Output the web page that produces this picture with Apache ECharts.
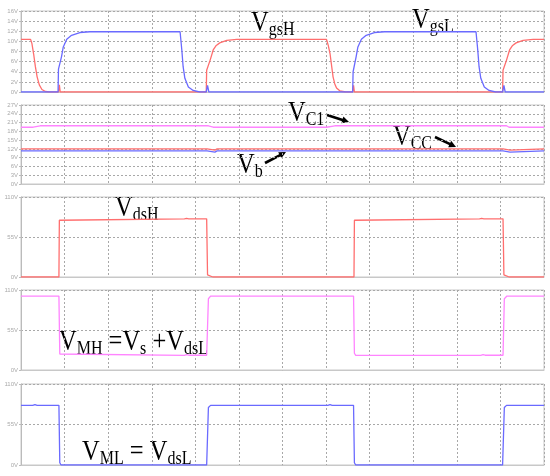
<!DOCTYPE html>
<html><head><meta charset="utf-8">
<script src="https://cdn.jsdelivr.net/npm/echarts@6/dist/echarts.min.js"></script>
<style>html,body{margin:0;padding:0;background:#fff}#c{width:550px;height:476px}</style>
</head><body><div id="c"></div>
<script>
// ---- Data (x in time divisions, y in volts) ----
const xDivisions = 12;
const yMax = [16, 27, 110, 110, 110];
const yStep = [2, 3, 55, 55, 55];
const unit = 'V';

// Panel 1: gate voltages
const vgsH = [[0,10.4],[0.22,10.4],[0.25,9.6],[0.29,7.5],[0.33,5],[0.37,3],[0.42,1.4],[0.48,0.5],[0.56,0.1],[0.65,0],[0.86,0],[0.88,1.4],[0.9,0],[4.25,0],[4.26,4.3],[4.3,4.5],[4.34,6.3],[4.41,8.3],[4.48,9.2],[4.56,9.7],[4.72,10.2],[4.95,10.4],[7.01,10.4],[7.05,9.2],[7.09,7.6],[7.16,3],[7.2,1.6],[7.24,0.8],[7.32,0.2],[7.45,0],[7.61,0],[7.63,1.3],[7.65,0],[11.05,0],[11.06,4.3],[11.1,4.5],[11.14,6.3],[11.21,8.3],[11.28,9.2],[11.36,9.7],[11.52,10.2],[11.75,10.4],[12,10.4]];
const vgsL = [[0,0],[0.85,0],[0.86,4.5],[0.89,4.5],[0.93,7],[0.97,8.9],[1.05,10.4],[1.16,11.2],[1.35,11.75],[1.58,11.9],[3.65,11.9],[3.69,8.3],[3.72,5],[3.76,2.7],[3.84,1],[3.95,0.3],[4.1,0],[4.25,0],[4.28,1.3],[4.31,0],[7.61,0],[7.62,4],[7.65,4.2],[7.69,7],[7.73,8.9],[7.81,10.4],[7.92,11.2],[8.11,11.75],[8.34,11.9],[10.44,11.9],[10.48,8.3],[10.51,5],[10.55,2.7],[10.63,1],[10.74,0.3],[10.89,0],[11.05,0],[11.08,1.3],[11.11,0],[12,0]];
// Panel 2: supply rails
const vc1 = [[0,19.4],[0.28,19.4],[0.44,19.9],[4.3,19.9],[4.41,19.4],[7.01,19.4],[7.2,19.9],[11.14,19.9],[11.2,19.4],[12,19.4]];
const vcc = [[0,12],[4.27,12],[4.3,11.6],[4.45,11.6],[4.5,12],[11.06,12],[11.09,11.6],[11.22,11.6],[11.26,12],[12,12]];
const vb  = [[0,11.3],[4.27,11.3],[4.3,10.9],[4.45,10.9],[4.5,11.3],[11.06,11.3],[11.09,10.9],[11.22,10.9],[11.26,11.3],[12,11.3]];
// Panel 3
const vdsH = [[0,0],[0.87,0],[0.88,78],[0.9,80],[3.75,80],[3.8,80.6],[3.85,80],[4.26,80],[4.28,3],[4.32,0.5],[4.4,0],[7.64,0],[7.65,78],[7.67,80],[10.52,80],[10.57,80.6],[10.62,80],[11.06,80],[11.08,3],[11.12,0.5],[11.2,0],[12,0]];
// Panel 4
const vmh = [[0,101.7],[0.87,101.7],[0.89,22],[0.92,20],[3.75,20],[3.8,21],[3.85,20.3],[4.26,20.3],[4.3,98],[4.35,101.7],[7.63,101.7],[7.65,23],[7.68,20],[10.55,20],[10.6,21],[10.65,20.3],[11.06,20.3],[11.09,98],[11.15,101.7],[12,101.7]];
// Panel 5
const vml = [[0,81],[0.27,81],[0.32,82],[0.37,81],[0.87,81],[0.89,3],[0.92,0],[4.26,0],[4.3,78],[4.35,81],[7.04,81],[7.09,82],[7.14,81],[7.63,81],[7.65,3],[7.68,0],[11.05,0],[11.09,78],[11.14,81],[12,81]];

const RED = '#ff6e6e', BLUE = '#6a6aff', PINK = '#ff84ff';

// ---- Layout ----
const panels = [
  {top: 11, height: 81},
  {top: 105, height: 79},
  {top: 197, height: 80},
  {top: 290, height: 80},
  {top: 384, height: 81}
];
const grid = panels.map(p => ({left: 21, right: 6, top: p.top, height: p.height, show: true, borderColor: '#c8c8c8', borderWidth: 1, backgroundColor: 'transparent'}));
const gridDash = {color: '#a8a8a8', width: 1, type: [2, 2]};
const xAxis = panels.map((p, i) => ({
  type: 'value', gridIndex: i, min: 0, max: xDivisions, interval: 1,
  axisLabel: {show: false}, axisTick: {show: false},
  axisLine: {show: true, lineStyle: {color: '#c8c8c8'}},
  splitLine: {show: true, lineStyle: gridDash}
}));
const yAxis = panels.map((p, i) => ({
  type: 'value', gridIndex: i, min: 0, max: yMax[i], interval: yStep[i],
  axisLabel: {show: true, formatter: v => v + unit, fontSize: 6, color: '#aaa', margin: 3, fontFamily: 'Liberation Sans'},
  axisTick: {show: true, length: 2, lineStyle: {color: '#bbb'}},
  axisLine: {show: true, lineStyle: {color: '#bbb'}},
  splitLine: {show: true, lineStyle: gridDash}
}));
function ser(data, idx, color) {
  return {type: 'line', xAxisIndex: idx, yAxisIndex: idx, data: data, showSymbol: false, symbol: 'none',
    lineStyle: {color: color, width: 1.3}, itemStyle: {color: color}, animation: false, silent: true};
}
const series = [
  ser(vgsH, 0, RED), ser(vgsL, 0, BLUE),
  ser(vc1, 1, PINK), ser(vcc, 1, RED), ser(vb, 1, BLUE),
  ser(vdsH, 2, RED),
  ser(vmh, 3, PINK),
  ser(vml, 4, BLUE)
];

// ---- Annotations ----
const mctx = document.createElement('canvas').getContext('2d');
const SERIF = '"Liberation Serif","Times New Roman",serif';
function label(x, base, pieces) {
  const children = []; let cx = 0;
  pieces.forEach(([t, kind]) => {
    const size = kind === 's' ? 16 : 24.5;
    const font = size + 'px ' + SERIF;
    mctx.font = font;
    const w = mctx.measureText(t).width;
    const by = kind === 's' ? 3 : 0;
    children.push({type: 'text', x: cx, y: by - 0.34 * size,
      style: {text: t, font: font, fill: '#000', verticalAlign: 'middle', align: 'left'}});
    cx += w;
  });
  return {type: 'group', x: x, y: base, scaleY: 1.22, children: children, silent: true};
}
function arrow(x1, y1, x2, y2) {
  const dx = x2 - x1, dy = y2 - y1, L = Math.hypot(dx, dy), ux = dx / L, uy = dy / L;
  const hl = 7, hw = 3.5;
  const bx = x2 - ux * hl, by = y2 - uy * hl;
  return [
    {type: 'line', shape: {x1: x1, y1: y1, x2: bx + ux, y2: by + uy}, style: {stroke: '#000', lineWidth: 2.6}, silent: true},
    {type: 'polygon', shape: {points: [[x2, y2], [bx - uy * hw, by + ux * hw], [bx + uy * hw, by - ux * hw]]}, style: {fill: '#000'}, silent: true}
  ];
}
const graphic = [
  label(251, 33, [['V', 'b'], ['gsH', 's']]),
  label(412, 30, [['V', 'b'], ['gsL', 's']]),
  label(288, 123, [['V', 'b'], ['C1', 's']]),
  label(393, 147, [['V', 'b'], ['CC', 's']]),
  label(237, 175, [['V', 'b'], ['b', 's']]),
  label(115, 218, [['V', 'b'], ['dsH', 's']]),
  label(59, 352, [['V', 'b'], ['MH', 's'], [' =', 'b'], ['V', 'b'], ['s', 's'], [' +', 'b'], ['V', 'b'], ['dsL', 's']]),
  label(82, 462, [['V', 'b'], ['ML', 's'], [' = ', 'b'], ['V', 'b'], ['dsL', 's']]),
  ...arrow(327, 115, 349, 122),
  ...arrow(435, 137, 456, 147),
  ...arrow(265, 163, 286, 152)
];

const chart = echarts.init(document.getElementById('c'), null, {renderer: 'canvas'});
chart.setOption({animation: false, backgroundColor: '#fff', grid, xAxis, yAxis, series, graphic});
</script></body></html>
